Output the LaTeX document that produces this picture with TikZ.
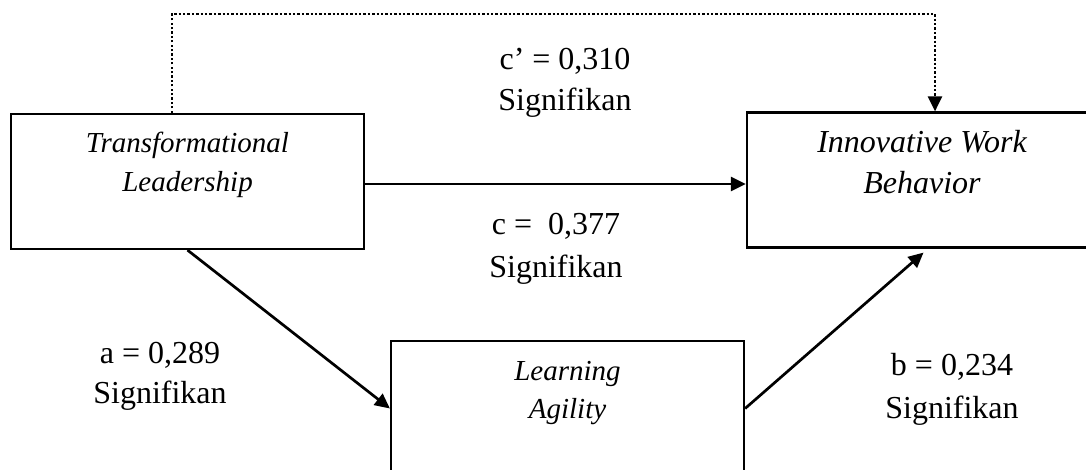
\documentclass[tikz,border=0pt]{standalone}
\usepackage{fontspec}
\setmainfont{Liberation Serif}
\usetikzlibrary{arrows.meta}
\begin{document}
\begin{tikzpicture}[x=1pt,y=-1pt,
  box/.style={draw, line width=2.2pt, rectangle, minimum width=353pt, minimum height=135pt, inner sep=0pt},
  lbl/.style={font=\fontsize{32}{38}\selectfont, anchor=base, inner sep=0pt},
  itl/.style={font=\fontsize{29}{35}\selectfont\itshape, anchor=base, inner sep=0pt},
  iti/.style={font=\fontsize{32}{38}\selectfont\itshape, anchor=base, inner sep=0pt},
  conn/.style={line width=2.7pt, -{Triangle[length=15pt,width=14pt]}},
  dotconn/.style={conn, dash pattern=on 2.3pt off 2.1pt}]
\useasboundingbox (0,0) rectangle (1086,470);
\clip (0,0) rectangle (1086,470);
\fill[white] (0,0) rectangle (1086,470);
\node[box] (tl) at (187.5,181.5) {};
\node[box] (iwb) at (923.5,180) {};
\node[box] (la) at (567.5,408.5) {};
\draw[dotconn] ([xshift=-15.5pt]tl.north) -- ++(0,-99) -| ([xshift=11.5pt]iwb.north);
\draw[conn] ([yshift=-2.5pt]tl.east) -- ([yshift=-4pt]iwb.west);
\draw[conn] (tl.south) -- (la.west);
\draw[conn] (la.east) -- ([yshift=-4pt]iwb.south);
\node[itl] (tl1) at (187.5,153) {Transformational};
\node[itl] (tl2) at (187.5,192) {Leadership};
\node[iti] (iwb1) at (922,153) {Innovative Work};
\node[iti] (iwb2) at (922,194) {Behavior};
\node[itl] (la1) at (567.5,380) {Learning};
\node[itl] (la2) at (567.5,418) {Agility};
\node[lbl] (cp1) at (565,70) {c’ = 0,310};
\node[lbl] (cp2) at (565,111) {Signifikan};
\node[lbl] (c1) at (556,235) {c =\ \ 0,377};
\node[lbl] (c2) at (556,277) {Signifikan};
\node[lbl] (a1) at (160,363) {a = 0,289};
\node[lbl] (a2) at (160,403) {Signifikan};
\node[lbl] (b1) at (952,375) {b = 0,234};
\node[lbl] (b2) at (952,418) {Signifikan};
\end{tikzpicture}
\end{document}
